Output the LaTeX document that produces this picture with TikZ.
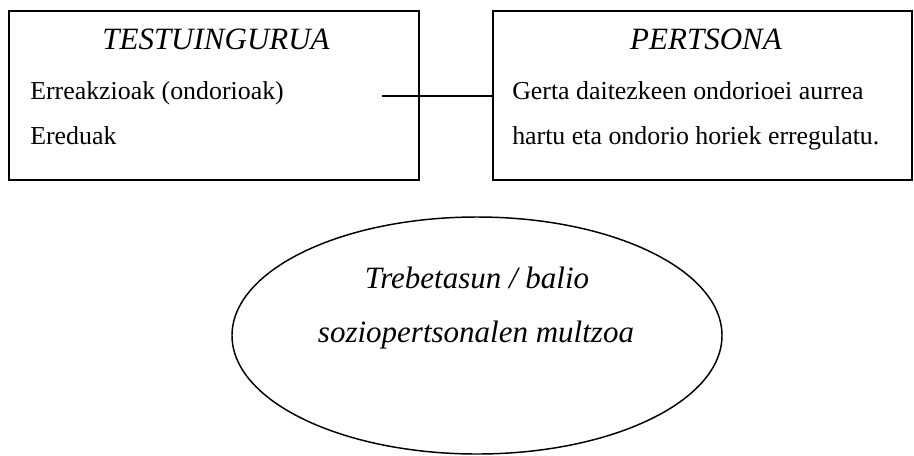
\documentclass[tikz,border=0pt]{standalone}
\usepackage{fontspec}
\setmainfont{Liberation Serif}
\usetikzlibrary{shapes.geometric}
\tikzset{
  framebox/.style={draw, line width=1.5pt, rectangle, inner sep=0pt},
  titletext/.style={anchor=base, inner sep=0pt, font=\fontsize{23.25pt}{28pt}\selectfont\itshape},
  bodytext/.style={anchor=base west, inner sep=0pt, font=\fontsize{19.4pt}{23pt}\selectfont},
  ovaltext/.style={anchor=base, inner sep=0pt, font=\fontsize{23.25pt}{28pt}\selectfont\itshape},
  link/.style={draw, line width=1.1pt}
}
\begin{document}
\begin{tikzpicture}[x=0.75pt,y=-0.75pt]
  \fill[white] (0,0) rectangle (914,455);
  \useasboundingbox (0,0) rectangle (914,455);

  % boxes
  \node[framebox, minimum width=307.5pt, minimum height=126.75pt] (testu) at (214,95.5) {};
  \node[framebox, minimum width=314.25pt, minimum height=126.75pt] (pers) at (702.5,95.5) {};

  % texts of left box
  \node[titletext] (testutitle) at (216,49) {TESTUINGURUA};
  \node[bodytext] (testu1) at (30,99) {Erreakzioak (ondorioak)};
  \node[bodytext] (testu2) at (30,144) {Ereduak};

  % texts of right box
  \node[titletext] (perstitle) at (706,49) {PERTSONA};
  \node[bodytext] (pers1) at (512,99) {Gerta daitezkeen ondorioei aurrea};
  \node[bodytext] (pers2) at (512,144) {hartu eta ondorio horiek erregulatu.};

  % connector
  \coordinate (linkstart) at (382,96);
  \draw[link] (linkstart) -- (linkstart -| pers.west);

  % ellipse
  \node[draw, ellipse, line width=1.1pt, minimum width=367.5pt, minimum height=177.75pt, inner sep=0pt] (oval) at (477,335.5) {};
  \node[ovaltext] (oval1) at (477,288) {Trebetasun / balio};
  \node[ovaltext] (oval2) at (476,342) {soziopertsonalen multzoa};
\end{tikzpicture}
\end{document}
